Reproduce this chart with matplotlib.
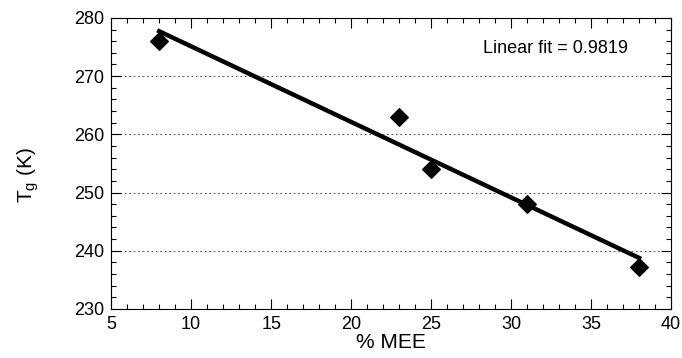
import numpy as np
import matplotlib
matplotlib.use("Agg")
import matplotlib.pyplot as plt
from matplotlib.ticker import MultipleLocator

plt.rcParams["font.family"] = ["Liberation Sans", "DejaVu Sans"]

# data
mee = [8, 23, 25, 31, 38]
tg = [276.0, 263.0, 254.0, 248.0, 237.2]
fit_label = "Linear fit = 0.9819"

fig = plt.figure(figsize=(6.82, 3.58), dpi=100)
ax = fig.add_axes([0.163, 0.137, 0.821, 0.813])

# least-squares line through the points
slope, icpt = np.polyfit(mee, tg, 1)
xf = np.array([min(mee), max(mee)])
ax.plot(xf, slope * xf + icpt, color="black", lw=3.2, zorder=3)
ax.scatter(mee, tg, marker="D", s=80, color="black", zorder=4)

for yv in [240, 250, 260, 270]:
    ax.axhline(yv, color="#555555", lw=0.8, ls=(0, (1.5, 2.5)), zorder=1)

ax.text(32.8, 274.8, fit_label, ha="center", va="center", fontsize=13)

ax.set_xlim(5, 40)
ax.set_ylim(230, 280)
ax.xaxis.set_major_locator(MultipleLocator(5))
ax.xaxis.set_minor_locator(MultipleLocator(1))
ax.yaxis.set_major_locator(MultipleLocator(10))
ax.yaxis.set_minor_locator(MultipleLocator(2))
ax.tick_params(which="both", direction="in", top=True, right=True, labelsize=13)
ax.tick_params(which="major", length=7, width=0.8, pad=5)
ax.tick_params(which="minor", length=3.5, width=0.8)
for s in ax.spines.values():
    s.set_linewidth(0.8)

ax.set_xlabel("% MEE", fontsize=15, labelpad=0)
ax.set_ylabel(r"T$_\mathregular{g}$ (K)", fontsize=15)
ax.yaxis.set_label_coords(-0.125, 0.46)

fig.savefig("out.png", dpi=100)
